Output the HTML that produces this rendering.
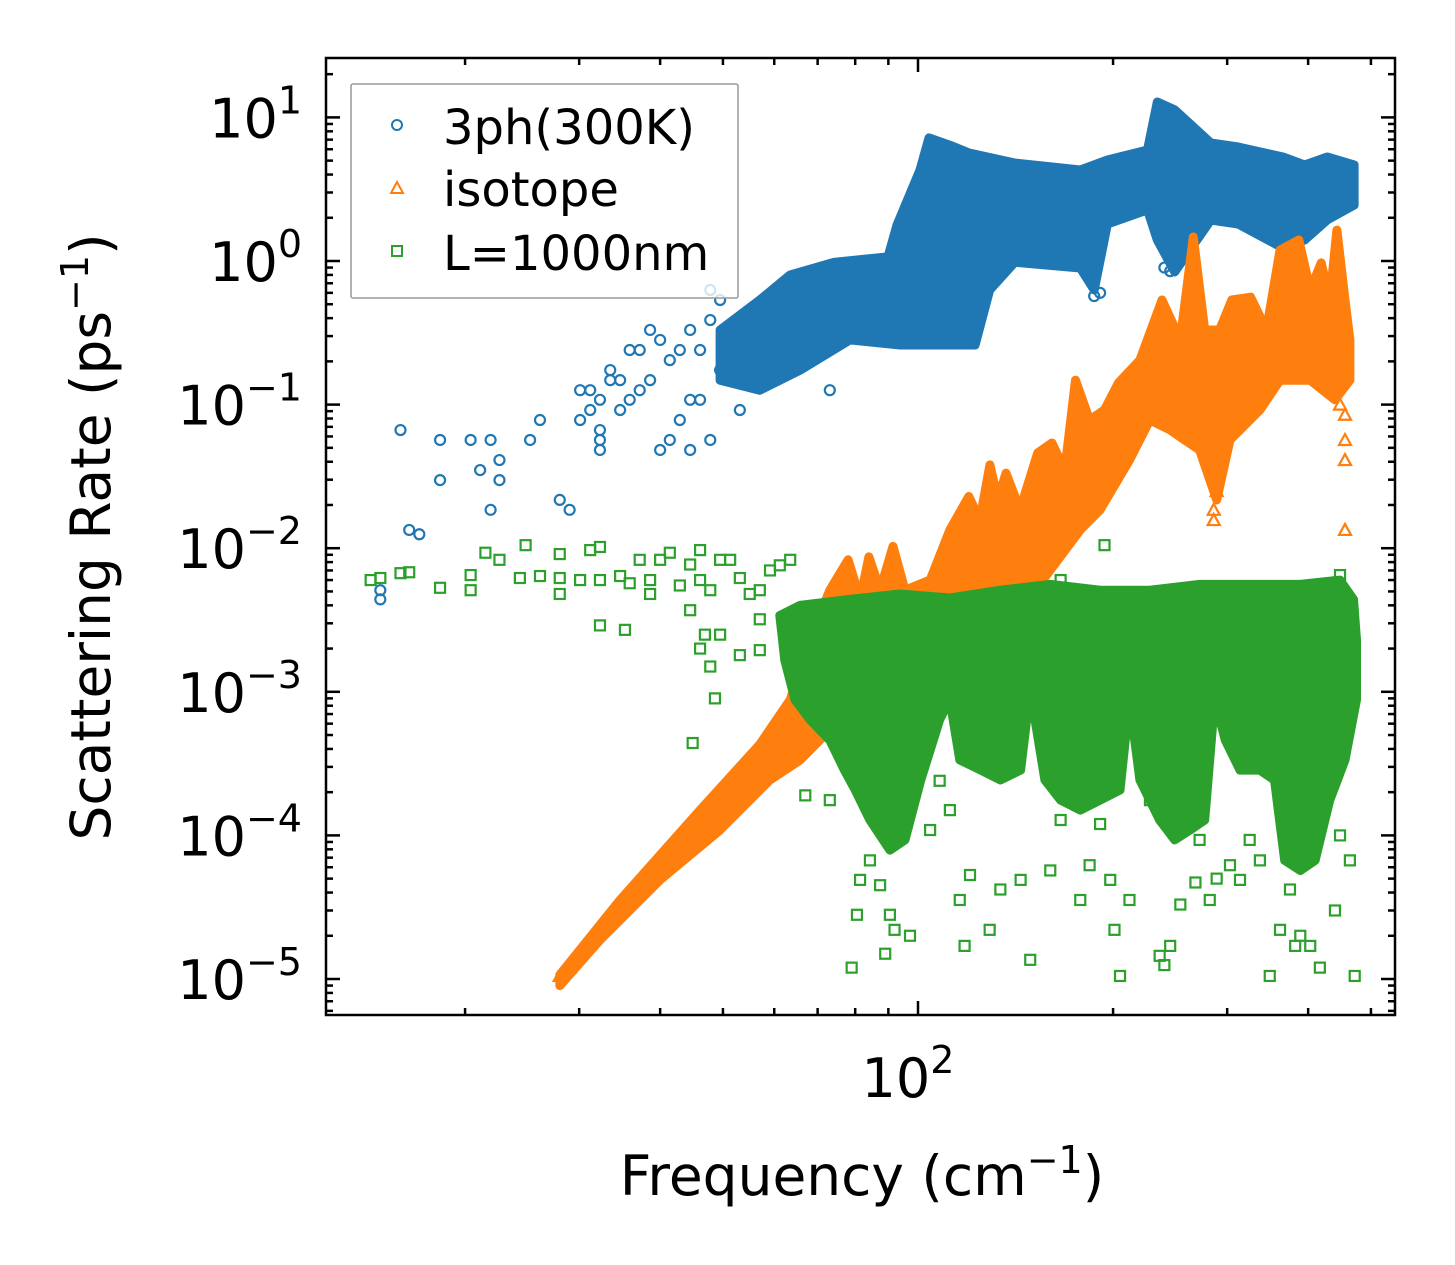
<!DOCTYPE html>
<html><head><meta charset="utf-8"><style>
html,body{margin:0;padding:0;background:#fff;}
svg{display:block;font-family:"DejaVu Sans","Liberation Sans",sans-serif;}
</style></head><body>
<svg id="chart" width="1455" height="1265" viewBox="0 0 1455 1265" xmlns="http://www.w3.org/2000/svg">
<rect width="1455" height="1265" fill="#fff"/>
<g id="plot"></g>
<g id="axes"></g>
<text transform="translate(110,537) rotate(-90)" text-anchor="middle" font-size="55">Scattering Rate (ps<tspan font-size="38" dy="-22">−1</tspan><tspan dy="22">)</tspan></text>
<text x="862" y="1195" text-anchor="middle" font-size="55">Frequency (cm<tspan font-size="38" dy="-22">−1</tspan><tspan dy="22">)</tspan></text>
<g>
<rect x="351" y="84" width="387" height="214" fill="#fff" fill-opacity="0.8" stroke="#999" stroke-width="1.5" rx="2"/>
<circle cx="397" cy="125" r="5" fill="none" stroke="#1f77b4" stroke-width="2"/>
<text x="443" y="144" font-size="48">3ph(300K)</text>
<polygon points="397,182 403,193 391,193" fill="none" stroke="#ff7f0e" stroke-width="2"/>
<text x="443" y="206" font-size="48">isotope</text>
<rect x="392" y="246" width="10" height="10" fill="none" stroke="#2ca02c" stroke-width="2"/>
<text x="443" y="270" font-size="48">L=1000nm</text>
</g>
</svg>
<script>
// ---- data (frequency cm^-1, rate ps^-1) ----
const blueBandFreq = [49.5,57.0,63.5,74.2,89.9,92.8,100.7,104,112,120,141,178,196,226,234,249,283,312,366,395,428,471, 471,428,395,366,312,283,249,234,226,196,187,178,141,129,122.5,93.8,78.5,65.8,57.0,49.5];
const blueBandRate = [0.331,0.535,0.80,0.98,1.07,1.78,4.3,7.2,6.4,5.65,4.81,4.3,5.05,5.93,12.8,11.3,6.64,6.22,5.3,4.66,5.3,4.66, 2.45,1.93,1.40,1.23,1.81,1.93,0.84,1.40,2.27,1.81,0.628,0.894,0.98,0.628,0.26,0.26,0.282,0.174,0.126,0.148];
const blueFreq = [14.8,14.8,15.9,16.4,17.0,18.3,18.3,20.4,21.9,21.1,21.9,22.6,22.6,25.2,26.1,28.0,29.0,30.1,30.1,31.2,31.2,32.3,32.3,32.3,33.5,33.5,34.7,34.7,35.9,37.2,37.2,38.6,40,40,41.4,41.4,42.9,42.9,44.5,44.5,44.5,46.1,46.1,47.8,47.8,47.8,49.5,49.5,51.3,53.1,53.1,55,57,59.1,61.2,65.8,73.1,38.6,35.9,32.3,187,191,240,245];
const blueRate = [0.0051,0.0044,0.0665,0.0134,0.0125,0.0567,0.0298,0.0567,0.0567,0.035,0.0185,0.0411,0.0298,0.0567,0.0781,0.0217,0.0185,0.0781,0.126,0.0917,0.126,0.0665,0.0567,0.0483,0.174,0.148,0.0917,0.148,0.108,0.126,0.24,0.148,0.282,0.0483,0.0567,0.204,0.24,0.0781,0.331,0.108,0.0483,0.24,0.108,0.388,0.628,0.0567,0.535,0.174,0.204,0.0917,0.148,0.282,0.148,0.24,0.331,0.204,0.126,0.331,0.24,0.108,0.57,0.6,0.9,0.85];

const orangeBandFreq = [28.0,34.7,46.1,57.0,63.5,68.1,73.1,78,81.4,84,87.4,91.5,95.5,104.4,112,119.8,124.6,129.1,132.8,136.7,143.7,153,161,168.5,175,184,194,204,220,238,254,266,277,292,305,326,345,362,387,403,419,432,443,456,464, 464,440,403,362,337,303,289,272,258,245,228,212,191,178,160,144,125,104,87.4,75.8,65.8,59.1,49.5,40,32.3,28.0];
const orangeBandRate = [1.07e-5,3.55e-5,1.5e-4,4.3e-4,8.8e-4,2.3e-3,5.1e-3,8.3e-3,4.4e-3,8.7e-3,5.1e-3,0.0103,5.1e-3,6.0e-3,0.0134,0.0229,0.0157,0.038,0.0217,0.0333,0.0185,0.046,0.054,0.035,0.148,0.078,0.092,0.142,0.204,0.535,0.282,1.47,0.331,0.331,0.535,0.56,0.331,1.19,1.40,0.628,0.97,0.535,1.64,0.535,0.282, 0.148,0.108,0.148,0.148,0.0917,0.0567,0.0217,0.0483,0.0567,0.0665,0.0781,0.0411,0.0185,0.0134,0.00705,0.00371,0.0023,0.00166,8.8e-4,6.4e-4,3.35e-4,2.43e-4,1.09e-4,4.9e-5,1.87e-5,9e-6];
const orangeFreq = [456,456,456,456,448,286,286,289,28.0,29.0];
const orangeRate = [0.0567,0.0411,0.0134,0.085,0.1,0.0185,0.0157,0.025,1.05e-5,1.2e-5];

const greenBandFreq = [61.2,65.8,78.5,93.8,112,133.8,160,191,228,272,325,389,448,470,475, 475,456,432,410,389,368,355,337,314,298,287,277,263,249,236,220,212,205,191,178,166,157,149,144,134,125,116,112,108,101,95.5,90.5,84.3,80,77,73.1,68.1,64.6,62.3];
const greenBandRate = [3.4e-3,4.0e-3,4.4e-3,4.8e-3,4.5e-3,5.1e-3,5.6e-3,5.1e-3,5.1e-3,5.6e-3,5.6e-3,5.6e-3,6.0e-3,4.4e-3,2.3e-3, 8.8e-4,3.35e-4,1.76e-4,6.7e-5,5.7e-5,6.7e-5,2.43e-4,2.85e-4,2.85e-4,4.6e-4,8.8e-4,1.28e-4,1.09e-4,9.3e-5,1.28e-4,2.43e-4,8.8e-4,2.07e-4,1.76e-4,1.5e-4,1.76e-4,2.43e-4,1.03e-3,2.85e-4,2.43e-4,2.85e-4,3.35e-4,8.8e-4,6.4e-4,2.43e-4,9.3e-5,7.9e-5,1.28e-4,2.07e-4,2.85e-4,4.6e-4,6.4e-4,8.8e-4,1.66e-3];
const greenFreq = [14.3,14.8,15.9,16.4,18.3,20.4,21.5,22.6,24.8,26.1,28.0,28.0,30.1,31.2,32.3,32.3,34.7,35.9,37.2,38.6,40,41.4,42.9,44.5,46.1,46.1,47.8,49.5,51.3,53.1,55,57,59.1,61.2,63.5,32.3,35.3,28.0,44.5,46.9,47.8,48.6,49.5,46.1,53.1,44.9,57,57,20.4,24.3,38.6,
 79,80.5,81.4,84.3,87.4,89,90.5,92,97.2,104.4,112,116,118,120.3,129,134,144,149,160,178,184,191,198,201,205,212,236,240,245,254,268,272,282,289,303,314,325,349,362,375,382,389,403,417,440,448,464,472,84.3,73.1,67,108,166,228,337,194,166,448];
const greenRate = [6.0e-3,6.2e-3,6.7e-3,6.8e-3,5.3e-3,6.5e-3,9.3e-3,8.3e-3,0.0105,6.4e-3,9.1e-3,6.2e-3,6.0e-3,9.7e-3,0.0102,6.0e-3,6.4e-3,5.7e-3,8.3e-3,6.0e-3,8.3e-3,9.3e-3,5.5e-3,7.7e-3,6.0e-3,9.7e-3,5.1e-3,8.3e-3,8.3e-3,6.2e-3,4.8e-3,5.1e-3,7.0e-3,7.6e-3,8.3e-3,2.9e-3,2.7e-3,4.8e-3,3.7e-3,2.5e-3,1.5e-3,9.0e-4,2.5e-3,2.0e-3,1.8e-3,4.4e-4,3.2e-3,1.95e-3,5.1e-3,6.2e-3,4.8e-3,
 1.2e-5,2.8e-5,4.9e-5,6.7e-5,4.5e-5,1.5e-5,2.8e-5,2.2e-5,2.0e-5,1.09e-4,1.5e-4,3.55e-5,1.7e-5,5.3e-5,2.2e-5,4.2e-5,4.9e-5,1.36e-5,5.7e-5,3.55e-5,6.2e-5,1.2e-4,4.9e-5,2.2e-5,1.05e-5,3.55e-5,1.45e-5,1.25e-5,1.7e-5,3.3e-5,4.7e-5,9.3e-5,3.55e-5,5.0e-5,6.2e-5,4.9e-5,9.3e-5,1.05e-5,2.2e-5,4.2e-5,1.7e-5,2.0e-5,1.7e-5,1.2e-5,3.0e-5,1.0e-4,6.7e-5,1.05e-5,1.76e-4,1.76e-4,1.9e-4,2.4e-4,1.28e-4,1.76e-4,6.7e-5,0.0105,6.0e-3,6.5e-3];

const yTickExps = [1,0,-1,-2,-3,-4,-5];
const xMinorTicks = [20,30,40,50,60,70,80,90,200,300,400,500];

// ---- axis functions ----
const L=326,R=1395,T=58,B=1015;
function X(f){return 918+648*(Math.log10(f)-2);}
function Y(r){return 261-143.6*Math.log10(r);}
const NS="http://www.w3.org/2000/svg";
const plot=document.getElementById('plot');
const axes=document.getElementById('axes');
function mk(tag,attrs,parent){const e=document.createElementNS(NS,tag);for(const k in attrs)e.setAttribute(k,attrs[k]);parent.appendChild(e);return e;}

function band(fs,rs,color,name){
  const pts=fs.map((f,i)=>X(f).toFixed(1)+','+Y(rs[i]).toFixed(1)).join(' ');
  const p=mk('polygon',{points:pts,fill:color,stroke:color,'stroke-width':9,'stroke-linejoin':'round'},plot);
  
  
}
function circles(fs,rs,color){
  fs.forEach((f,i)=>{const c=mk('circle',{cx:X(f),cy:Y(rs[i]),r:5,fill:'none',stroke:color,'stroke-width':2.2},plot);
    
    });
}
function tris(fs,rs,color){
  fs.forEach((f,i)=>{const x=X(f),y=Y(rs[i]);
    const t=mk('polygon',{points:`${x},${y-6} ${x+6},${y+5} ${x-6},${y+5}`,fill:'none',stroke:color,'stroke-width':2.2},plot);
    
    });
}
function squares(fs,rs,color){
  fs.forEach((f,i)=>{const x=X(f),y=Y(rs[i]);
    const s=mk('rect',{x:x-5,y:y-5,width:10,height:10,fill:'none',stroke:color,'stroke-width':2.2},plot);
    
    });
}
band(blueBandFreq,blueBandRate,'#1f77b4','band-3ph');
circles(blueFreq,blueRate,'#1f77b4');
band(orangeBandFreq,orangeBandRate,'#ff7f0e','band-isotope');
tris(orangeFreq,orangeRate,'#ff7f0e');
band(greenBandFreq,greenBandRate,'#2ca02c','band-boundary');
squares(greenFreq,greenRate,'#2ca02c');

// ---- axes ----
const frame=mk('rect',{x:L,y:T,width:R-L,height:B-T,fill:'none',stroke:'#000','stroke-width':2.5},axes);


function tick(x1,y1,x2,y2){mk('line',{x1,y1,x2,y2,stroke:'#000','stroke-width':2.5},axes);}
yTickExps.forEach(e=>{
  const y=Y(Math.pow(10,e));
  tick(L,y,L+14,y);tick(R,y,R-14,y);
  const t=mk('text',{x:302,y:y+20,'text-anchor':'end','font-size':54},axes);
  
  
  const base=document.createElementNS(NS,'tspan');base.textContent='10';t.appendChild(base);
  const sup=document.createElementNS(NS,'tspan');sup.setAttribute('font-size','38');sup.setAttribute('dy','-24');
  sup.textContent=(e<0?'−':'')+Math.abs(e);t.appendChild(sup);
  for(let m=2;m<=9;m++){
    const ym=Y(Math.pow(10,e-1)*m);
    if(ym>T&&ym<B){tick(L,ym,L+7,ym);tick(R,ym,R-7,ym);}
  }
});
for(let m=2;m<=9;m++){const ym=Y(Math.pow(10,1)*m);if(ym>T){tick(L,ym,L+7,ym);tick(R,ym,R-7,ym);}}
const xm=X(100);tick(xm,B,xm,B-14);tick(xm,T,xm,T+14);
xMinorTicks.forEach(f=>{const x=X(f);if(x>L&&x<R){tick(x,B,x,B-7);tick(x,T,x,T+7);}});
const xl=mk('text',{x:xm-10,y:1097,'text-anchor':'middle','font-size':54},axes);


const b2=document.createElementNS(NS,'tspan');b2.textContent='10';xl.appendChild(b2);
const s2=document.createElementNS(NS,'tspan');s2.setAttribute('font-size','38');s2.setAttribute('dy','-24');s2.textContent='2';xl.appendChild(s2);
</script>
</body></html>
